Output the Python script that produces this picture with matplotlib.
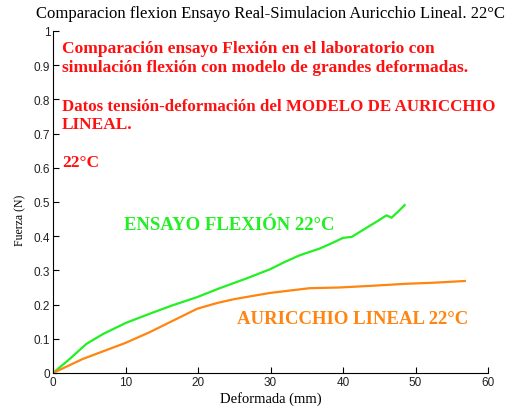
import matplotlib
matplotlib.use("Agg")
import matplotlib.pyplot as plt
from matplotlib.ticker import FixedLocator, FixedFormatter

# Data
ensayo_x = [0, 2.3, 4.6, 6.9, 10.0, 13.3, 16.5, 19.9, 23.0, 26.5, 29.9, 32.0, 34.0, 36.8, 38.5, 40.0, 41.2, 43.2, 44.6, 46.0, 46.7, 47.6, 48.5]
ensayo_y = [0, 0.041, 0.085, 0.114, 0.146, 0.173, 0.198, 0.222, 0.248, 0.275, 0.303, 0.325, 0.344, 0.364, 0.380, 0.395, 0.398, 0.424, 0.442, 0.461, 0.454, 0.472, 0.491]

auricchio_x = [0, 4.1, 10.0, 13.3, 19.9, 22.7, 25.0, 29.9, 35.4, 39.5, 44.0, 48.8, 52.5, 56.8]
auricchio_y = [0, 0.041, 0.088, 0.119, 0.188, 0.205, 0.216, 0.234, 0.248, 0.250, 0.255, 0.261, 0.264, 0.269]

x_ticks = [0, 10, 20, 30, 40, 50, 60]
y_ticks = [0, 0.1, 0.2, 0.3, 0.4, 0.5, 0.6, 0.7, 0.8, 0.9, 1]
y_tick_labels = ["0", "0.1", "0.2", "0.3", "0.4", "0.5", "0.6", "0.7", "0.8", "0.9", "1"]

title = "Comparacion flexion Ensayo Real-Simulacion Auricchio Lineal. 22°C"
xlabel = "Deformada (mm)"
ylabel = "Fuerza (N)"
note_lines = ["Comparación ensayo Flexión en el laboratorio con",
              "simulación flexión con modelo de grandes deformadas."]
note2_lines = ["Datos tensión-deformación del MODELO DE AURICCHIO",
               "LINEAL."]
note3 = "22°C"
label_ensayo = "ENSAYO FLEXIÓN 22°C"
label_auricchio = "AURICCHIO LINEAL 22°C"

GREEN = "#22f022"
ORANGE = "#ff8410"
RED = "#ff1010"
SERIF = ["Liberation Serif", "DejaVu Serif"]
SANS = ["Liberation Sans", "DejaVu Sans"]

W, H = 512, 414
fig = plt.figure(figsize=(W / 100, H / 100), dpi=100)
fig.patch.set_facecolor("white")
ax = fig.add_axes([53 / W, (H - 374) / H, 435 / W, 342 / H])

ax.plot(ensayo_x, ensayo_y, color=GREEN, lw=1.6)
ax.plot(auricchio_x, auricchio_y, color=ORANGE, lw=1.6)

ax.set_xlim(0, 60)
ax.set_ylim(0, 1)
ax.xaxis.set_major_locator(FixedLocator(x_ticks))
ax.yaxis.set_major_locator(FixedLocator(y_ticks))
ax.yaxis.set_major_formatter(FixedFormatter(y_tick_labels))
for s in ["top", "right"]:
    ax.spines[s].set_visible(False)
for s in ["left", "bottom"]:
    ax.spines[s].set_linewidth(0.8)
ax.tick_params(direction="in", length=4, width=0.8, labelsize=8.5, pad=2)
for lab in ax.get_xticklabels() + ax.get_yticklabels():
    lab.set_family(SANS)
    lab.set_color("#222222")

ax.set_xlabel(xlabel, family=SERIF, fontsize=10.5, labelpad=2)
ax.set_ylabel(ylabel, family=SERIF, fontsize=8.5)
ax.yaxis.set_label_coords(-0.062, 0.45)
fig.text(270 / W, 1 - 14 / H, title, family=SERIF, fontsize=12,
         ha="center", va="center")

def px_text(x, ybase, s, color, size=12.5):
    fig.text(x / W, 1 - ybase / H, s, family=SERIF, fontsize=size,
             fontweight="bold", color=color, ha="left", va="baseline")

px_text(62, 53, note_lines[0], RED)
px_text(62, 72, note_lines[1], RED)
px_text(62, 111, note2_lines[0], RED, 12.2)
px_text(62, 129, note2_lines[1], RED)
px_text(62, 167, note3, RED)
px_text(124, 230, label_ensayo, GREEN, 13.5)
px_text(237, 324, label_auricchio, ORANGE, 13.5)

fig.savefig("out.png", dpi=100)
